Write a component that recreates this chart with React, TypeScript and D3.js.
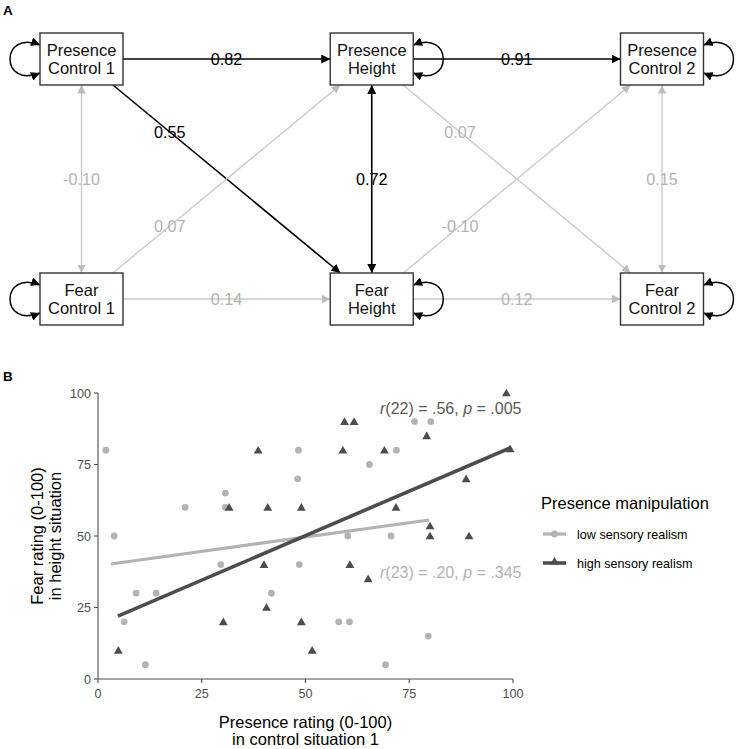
import React from "react";
import * as d3 from "d3";

// ---------- Panel A: path model ----------
const nodeLines: string[][] = [
  ["Presence", "Control 1"],
  ["Presence", "Height"],
  ["Presence", "Control 2"],
  ["Fear", "Control 1"],
  ["Fear", "Height"],
  ["Fear", "Control 2"],
];
const nodeCol = [0, 1, 2, 0, 1, 2];
const nodeRow = [0, 0, 0, 1, 1, 1];

const edgeFrom = [0, 1, 0, 3, 1, 4, 0, 1, 2, 3, 4];
const edgeTo = [1, 2, 4, 1, 5, 2, 3, 4, 5, 4, 5];
const edgeValue = [0.82, 0.91, 0.55, 0.07, 0.07, -0.1, -0.1, 0.72, 0.15, 0.14, 0.12];
const edgeSig = [true, true, true, false, false, false, false, true, false, false, false];
const edgeBidir = [false, false, false, false, false, false, true, true, true, false, false];
const edgeLabelAt = [0.5, 0.5, 0.25, 0.25, 0.25, 0.25, 0.5, 0.5, 0.5, 0.5, 0.5];

// ---------- Panel B: scatter ----------
const lowX = [1.9, 3.9, 21, 30.7, 30.7, 9.2, 14, 6.3, 11.4, 29.6, 48.5, 41.8, 58, 60.6, 79.6, 69.3, 76.3, 80.2, 48.3, 71.9, 65.4, 48.1, 60.2, 70.6];
const lowY = [80, 50, 60, 65, 60, 30, 30, 20, 5, 40, 40, 30, 20, 20, 15, 5, 90, 90, 80, 80, 75, 70, 50, 50];
const highX = [4.9, 30.2, 31.6, 40, 60.7, 65.1, 40.6, 49, 51.6, 98.4, 59.4, 61.7, 79.2, 38.6, 59, 69, 99.3, 88.7, 40.9, 49, 71.8, 80, 80, 89.4];
const highY = [10, 20, 60, 40, 40, 35, 25, 20, 10, 100, 90, 90, 85, 80, 80, 80, 80.5, 70, 60, 60, 60, 53.5, 50, 50];
const lowFitX = [3.1, 79.8];
const lowFitY = [40.2, 55.6];
const highFitX = [4.8, 99.3];
const highFitY = [22, 80.8];
const ticks = [0, 25, 50, 75, 100];
const legendLabels = ["low sensory realism", "high sensory realism"];

const FONT = "'Liberation Sans', Arial, Helvetica, sans-serif";
const LOW = "#b3b3b3";
const HIGH = "#4d4d4d";
const GRAY_LINE = "#c9c9c9";
const GRAY_HEAD = "#bdbdbd";
const GRAY_TEXT = "#b3b3b3";

export default function App() {
  const colX = d3.scaleLinear().domain([0, 2]).range([81.5, 662]);
  const rowY = d3.scaleLinear().domain([0, 1]).range([59, 299]);
  const hw = 41.5;
  const hh = 26;
  const cx = (i: number) => colX(nodeCol[i]);
  const cy = (i: number) => rowY(nodeRow[i]);

  const boundary = (a: number, b: number) => {
    const dx = cx(b) - cx(a);
    const dy = cy(b) - cy(a);
    const tx = dx === 0 ? Infinity : hw / Math.abs(dx);
    const ty = dy === 0 ? Infinity : hh / Math.abs(dy);
    const t = Math.min(tx, ty);
    return [cx(a) + dx * t, cy(a) + dy * t];
  };

  const x = d3.scaleLinear().domain([0, 100]).range([98, 513]);
  const y = d3.scaleLinear().domain([0, 100]).range([679, 393]);
  const tri = d3.symbol().type(d3.symbolTriangle).size(34)() as string;

  return (
    <svg
      width={736}
      height={749}
      style={{ position: "absolute", left: 0, top: 0, display: "block", background: "#fff" }}
      fontFamily={FONT}
    >
      <defs>
        <marker id="hb" viewBox="0 0 10 10" refX="10" refY="5" markerUnits="userSpaceOnUse" markerWidth="9" markerHeight="9" orient="auto-start-reverse">
          <path d="M0,0 L10,5 L0,10 z" fill="#000" />
        </marker>
        <marker id="hg" viewBox="0 0 10 10" refX="10" refY="5" markerUnits="userSpaceOnUse" markerWidth="8.5" markerHeight="8.5" orient="auto-start-reverse">
          <path d="M0,0 L10,5 L0,10 z" fill={GRAY_HEAD} />
        </marker>
      </defs>
      <rect width={736} height={749} fill="#fff" />

      {/* Panel A */}
      <text x={3} y={15} fontSize={13.5} fontWeight="bold" fill="#000">A</text>

      {edgeFrom.map((f, k) => {
        const t = edgeTo[k];
        const [x1, y1] = boundary(f, t);
        const [x2, y2] = boundary(t, f);
        const m = edgeSig[k] ? "url(#hb)" : "url(#hg)";
        const lx = x1 + (x2 - x1) * edgeLabelAt[k];
        const ly = y1 + (y2 - y1) * edgeLabelAt[k];
        return (
          <g key={"e" + k}>
            <line
              x1={x1}
              y1={y1}
              x2={x2}
              y2={y2}
              stroke={edgeSig[k] ? "#000" : GRAY_LINE}
              strokeWidth={edgeSig[k] ? 1.6 : 1.3}
              markerEnd={m}
              markerStart={edgeBidir[k] ? m : undefined}
            />
            <text x={lx} y={ly + 5.8} textAnchor="middle" fontSize={16.2} fill={edgeSig[k] ? "#000" : GRAY_TEXT}>
              {edgeValue[k].toFixed(2)}
            </text>
          </g>
        );
      })}

      {nodeLines.map((lines, i) => {
        const left = nodeCol[i] === 0;
        const ex = left ? cx(i) - hw : cx(i) + hw;
        const s = left ? -1 : 1;
        const yc = cy(i);
        const d = `M${ex},${yc - 14} C${ex + s * 40},${yc - 30} ${ex + s * 40},${yc + 30} ${ex},${yc + 14}`;
        return (
          <g key={"n" + i}>
            <path d={d} fill="none" stroke="#000" strokeWidth={1.5} markerStart="url(#hb)" markerEnd="url(#hb)" />
            <rect x={cx(i) - hw} y={yc - hh} width={hw * 2} height={hh * 2} fill="#fff" stroke="#333" strokeWidth={1.4} />
            {lines.map((l, j) => (
              <text key={j} x={cx(i)} y={yc - 3.2 + j * 18} textAnchor="middle" fontSize={16.5} fill="#111">
                {l}
              </text>
            ))}
          </g>
        );
      })}

      {/* Panel B */}
      <text x={3} y={381} fontSize={13.5} fontWeight="bold" fill="#000">B</text>

      {/* axes */}
      <line x1={x(0)} x2={x(0)} y1={y(0)} y2={y(100)} stroke="#4d4d4d" strokeWidth={1.1} />
      <line x1={x(0)} x2={x(100)} y1={y(0)} y2={y(0)} stroke="#4d4d4d" strokeWidth={1.1} />
      {ticks.map((t) => (
        <g key={"yt" + t}>
          <line x1={x(0) - 4} x2={x(0)} y1={y(t)} y2={y(t)} stroke="#4d4d4d" strokeWidth={1.1} />
          <text x={x(0) - 7} y={y(t) + 4.5} textAnchor="end" fontSize={12.6} fill="#4d4d4d">{t}</text>
        </g>
      ))}
      {ticks.map((t) => (
        <g key={"xt" + t}>
          <line x1={x(t)} x2={x(t)} y1={y(0)} y2={y(0) + 4} stroke="#4d4d4d" strokeWidth={1.1} />
          <text x={x(t)} y={y(0) + 19} textAnchor="middle" fontSize={12.6} fill="#4d4d4d">{t}</text>
        </g>
      ))}

      {/* axis titles */}
      <text x={x(50)} y={728} textAnchor="middle" fontSize={16.5} fill="#000">Presence rating (0-100)</text>
      <text x={x(50)} y={745} textAnchor="middle" fontSize={16.5} fill="#000">in control situation 1</text>
      <g transform={`translate(43,${y(50)}) rotate(-90)`}>
        <text x={0} y={0} textAnchor="middle" fontSize={16.5} fill="#000">Fear rating (0-100)</text>
      </g>
      <g transform={`translate(61,${y(50)}) rotate(-90)`}>
        <text x={0} y={0} textAnchor="middle" fontSize={16.5} fill="#000">in height situation</text>
      </g>

      {/* points */}
      {lowX.map((v, i) => (
        <circle key={"l" + i} cx={x(v)} cy={y(lowY[i])} r={3.4} fill={LOW} />
      ))}
      {highX.map((v, i) => (
        <path key={"h" + i} d={tri} transform={`translate(${x(v)},${y(highY[i]) + 0.8})`} fill={HIGH} />
      ))}

      {/* fits */}
      <path
        d={d3.line<number>().x((d) => x(lowFitX[d])).y((d) => y(lowFitY[d]))([0, 1]) as string}
        stroke={LOW}
        strokeWidth={3.2}
        fill="none"
      />
      <path
        d={d3.line<number>().x((d) => x(highFitX[d])).y((d) => y(highFitY[d]))([0, 1]) as string}
        stroke={HIGH}
        strokeWidth={3.6}
        fill="none"
      />

      {/* annotations */}
      <text x={380} y={414} fontSize={16} fill="#595959">
        <tspan fontStyle="italic">r</tspan>(22) = .56, <tspan fontStyle="italic">p</tspan> = .005
      </text>
      <text x={380} y={578} fontSize={16} fill={GRAY_TEXT}>
        <tspan fontStyle="italic">r</tspan>(23) = .20, <tspan fontStyle="italic">p</tspan> = .345
      </text>

      {/* legend */}
      <text x={541} y={509} fontSize={16.5} fill="#000">Presence manipulation</text>
      {legendLabels.map((lab, i) => {
        const ly = 534 + i * 29;
        return (
          <g key={"lg" + i}>
            <line x1={543} x2={566} y1={ly} y2={ly} stroke={i === 0 ? LOW : HIGH} strokeWidth={i === 0 ? 3.2 : 3.6} />
            {i === 0 ? (
              <circle cx={554.5} cy={ly} r={3.4} fill={LOW} />
            ) : (
              <path d={tri} transform={`translate(554.5,${ly - 1})`} fill={HIGH} />
            )}
            <text x={577} y={ly + 4.5} fontSize={12.6} fill="#000">{lab}</text>
          </g>
        );
      })}
    </svg>
  );
}
